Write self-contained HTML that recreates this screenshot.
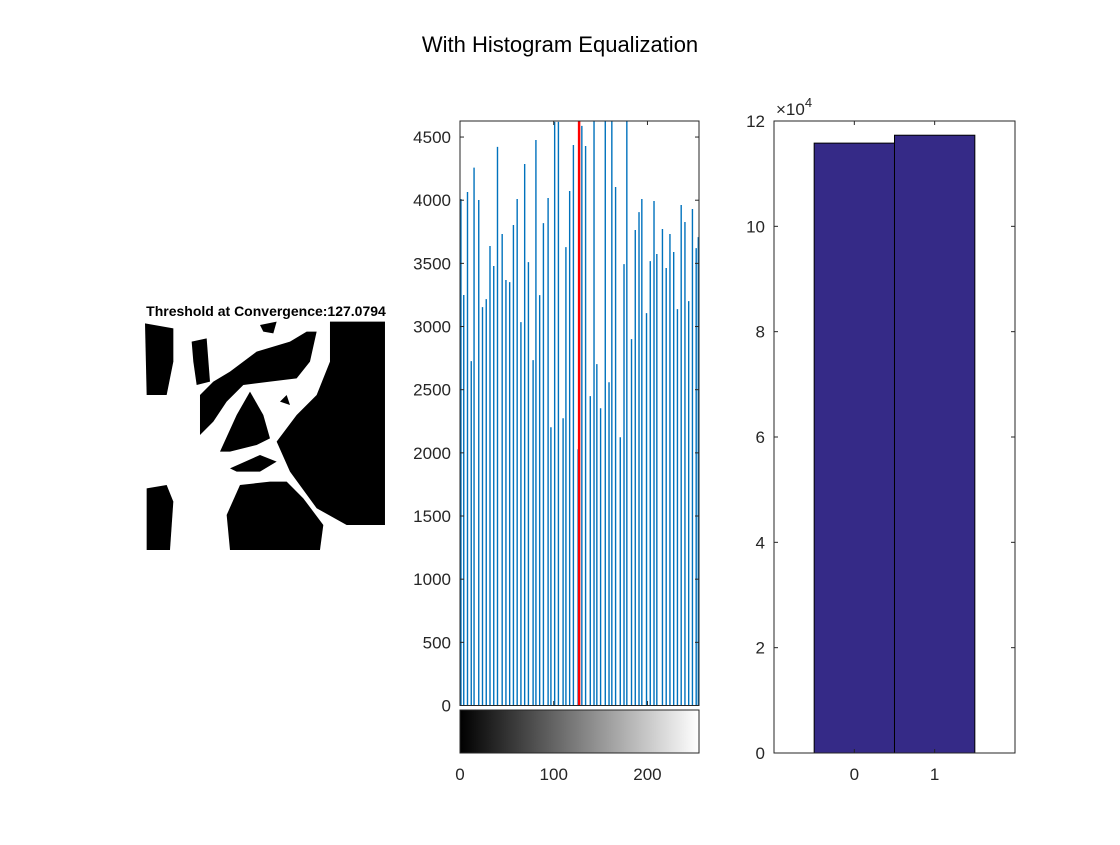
<!DOCTYPE html>
<html><head><meta charset="utf-8"><style>
body{margin:0;background:#fff;width:1120px;height:840px;overflow:hidden;font-family:"Liberation Sans",sans-serif}
svg text{font-family:"Liberation Sans",sans-serif}
</style></head><body>
<svg id="fig" width="1120" height="840">
<defs>
<linearGradient id="gray" x1="0" x2="1" y1="0" y2="0"><stop offset="0" stop-color="#000"/><stop offset="1" stop-color="#fff"/></linearGradient>
<clipPath id="hclip"><rect x="460" y="121" width="239" height="585"/></clipPath>
</defs>
<text x="560" y="52" font-size="22" text-anchor="middle">With Histogram Equalization</text>
<g>
<text x="266" y="316" font-size="14" font-weight="bold" text-anchor="middle">Threshold at Convergence:127.0794</text>
<g transform="translate(130,295) scale(0.3333)" fill="#000">
<polygon points="600,80 765,80 765,690 650,690 560,640 480,530 440,440 500,360 560,300 600,200"/>
<polygon points="300,230 380,170 480,140 530,110 560,110 540,200 500,250 420,260 340,270 290,320 250,380 210,420 210,300 250,260"/>
<polygon points="270,470 320,360 360,290 400,360 420,430 380,450 300,470"/>
<polygon points="300,520 390,480 440,500 390,530 320,530"/>
<polygon points="290,660 330,570 420,560 470,560 520,610 580,690 570,765 300,765"/>
<polygon points="50,580 110,570 130,620 120,765 50,765"/>
<polygon points="45,85 130,100 130,200 110,300 50,300"/>
<polygon points="390,90 440,80 430,115 400,110"/>
<polygon points="185,140 230,130 240,260 200,270 190,200"/>
<polygon points="450,320 470,300 480,330"/>
</g>
</g>
<g id="hist"></g>
<rect x="460" y="710" width="239" height="43" fill="url(#gray)" stroke="#262626" stroke-width="1"/>
<g id="bar"></g>
<script>
const levels=[1,4,8,12,15,20,24,28,32,36,40,45,49,53,57,61,65,69,73,78,81,85,89,94,97,101,105,110,113,117,121,126,130,134,139,143,146,150,155,159,162,166,171,175,178,183,187,191,194,199,203,207,210,216,220,224,228,232,236,240,244,248,252,255];
const counts=[4010,3250,4065,2726,4258,4002,3154,3217,3637,3479,4422,3732,3368,3352,3804,4010,3035,4287,3510,2734,4477,3249,3819,4017,2203,4620,4620,2274,3629,4073,4437,2029,4588,4429,2449,5000,2702,2353,5000,2559,5000,4105,2124,3494,5000,2900,3764,3906,4010,3106,3518,3994,3574,3772,3463,3732,3590,3138,3962,3827,3201,3930,3621,3708];
const threshold=127.0794;
const histYTicks=[0,500,1000,1500,2000,2500,3000,3500,4000,4500];
const histXTicks=[0,100,200];
const barCats=[0,1];
const barVals=[115800,117300];
const barYTicks=[0,2,4,6,8,10,12];
const NS='http://www.w3.org/2000/svg';
function mk(parent,tag,attrs){const e=document.createElementNS(NS,tag);for(const k in attrs)e.setAttribute(k,attrs[k]);parent.appendChild(e);return e;}
const H=document.getElementById('hist');
const hx=v=>460+(v/255)*239, hy=v=>705.5-(v/4627)*584.5;
const bg=mk(H,'g',{'clip-path':'url(#hclip)'});
levels.forEach((l,i)=>{const x=Math.min(hx(l),698.3);const r=mk(bg,'line',{x1:x,x2:x,y1:hy(0),y2:hy(counts[i]),stroke:'#0072BD','stroke-width':1.4});

});
const th=mk(bg,'line',{x1:hx(threshold),x2:hx(threshold),y1:121,y2:705.5,stroke:'#FF0000','stroke-width':2.5});


mk(H,'rect',{x:460,y:121,width:239,height:584.5,fill:'none',stroke:'#262626','stroke-width':1});
histYTicks.forEach(v=>{const y=hy(v);mk(H,'line',{x1:460,x2:464,y1:y,y2:y,stroke:'#262626'});mk(H,'line',{x1:695,x2:699,y1:y,y2:y,stroke:'#262626'});
const t=mk(H,'text',{x:451,y:y+6,'font-size':17,'text-anchor':'end',fill:'#262626'});t.textContent=v;

});
histXTicks.forEach(v=>{const x=hx(v);mk(H,'line',{x1:x,x2:x,y1:121,y2:125,stroke:'#262626'});mk(H,'line',{x1:x,x2:x,y1:701,y2:705,stroke:'#262626'});
mk(H,'line',{x1:x,x2:x,y1:710,y2:714,stroke:'#262626'});mk(H,'line',{x1:x,x2:x,y1:749,y2:753,stroke:'#262626'});
const t=mk(H,'text',{x:x,y:780,'font-size':17,'text-anchor':'middle',fill:'#262626'});t.textContent=v;

});
const B=document.getElementById('bar');
const bx=v=>774+(v+1)*80.33, by=v=>753-(v/120000)*632;
barCats.forEach((c,i)=>{const r=mk(B,'rect',{x:bx(c-0.5),y:by(barVals[i]),width:80.33,height:by(0)-by(barVals[i]),fill:'#352A87',stroke:'#000','stroke-width':1});

});
mk(B,'rect',{x:774,y:121,width:241,height:632,fill:'none',stroke:'#262626','stroke-width':1});
barYTicks.forEach(v=>{const y=by(v*10000);mk(B,'line',{x1:774,x2:778,y1:y,y2:y,stroke:'#262626'});mk(B,'line',{x1:1011,x2:1015,y1:y,y2:y,stroke:'#262626'});
const t=mk(B,'text',{x:765,y:y+6,'font-size':17,'text-anchor':'end',fill:'#262626'});t.textContent=v;

});
barCats.forEach(c=>{const x=bx(c);mk(B,'line',{x1:x,x2:x,y1:121,y2:125,stroke:'#262626'});mk(B,'line',{x1:x,x2:x,y1:749,y2:753,stroke:'#262626'});
const t=mk(B,'text',{x:x,y:780,'font-size':17,'text-anchor':'middle',fill:'#262626'});t.textContent=c;

});
const ex=mk(B,'text',{x:776,y:115,'font-size':17,fill:'#262626'});
ex.textContent='×10';
const sup=mk(ex,'tspan',{dy:-8,'font-size':13});
sup.textContent='4';


</script>
</svg>
</body></html>
